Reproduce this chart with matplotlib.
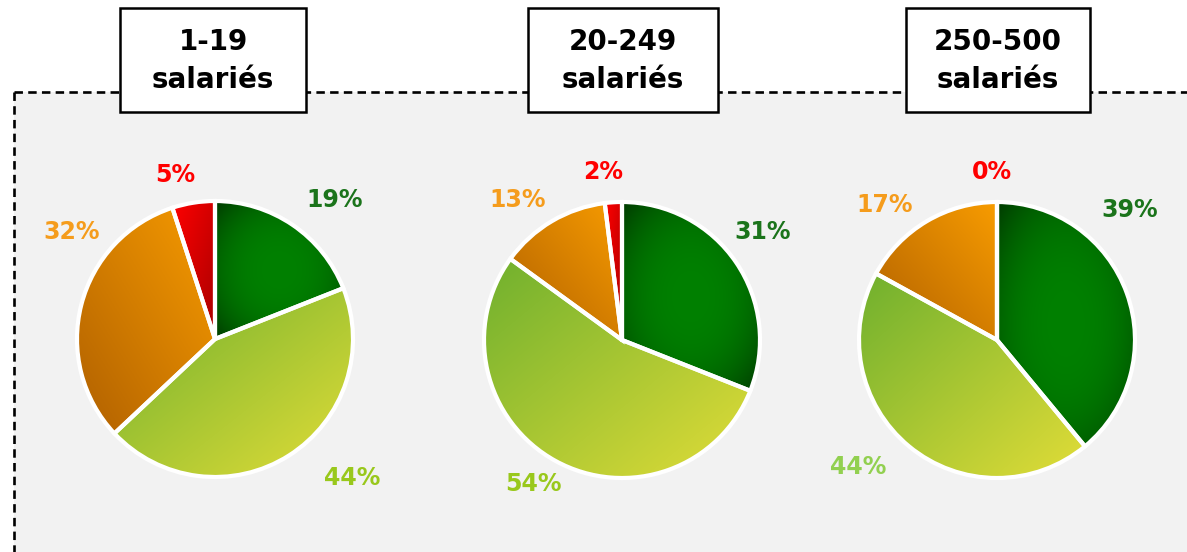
import numpy as np
import matplotlib.pyplot as plt
from matplotlib.patches import Rectangle
from matplotlib.colors import to_rgb

# data
groups = ['1-19\nsalariés', '20-249\nsalariés', '250-500\nsalariés']
# order: dark green, light green, orange, red (clockwise from 12 o'clock)
shares = [
    [19, 44, 32, 5],
    [31, 54, 13, 2],
    [39, 44, 17, 0],
]
label_colors = [
    ['#1b741b', '#99c81c', '#f59c1c', '#ff0000'],
    ['#1b741b', '#99c81c', '#f59c1c', '#ff0000'],
    ['#1b741b', '#92d050', '#f59c1c', '#ff0000'],
]

# layout (pixels)
W, H = 1187, 552
pie_centers = [(215, 339), (622, 340), (997, 340)]
pie_r = 138
box_x = [(120, 306), (528, 718), (906, 1090)]
label_pos = [
    [(335, 200), (352, 478), (72, 232), (175, 175)],
    [(763, 232), (533, 484), (518, 200), (603, 172)],
    [(1130, 210), (858, 467), (885, 205), (992, 172)],
]

grad = {
    0: ('radial', '#008000', '#003800'),
    1: ('diag_down', '#6fb02e', '#e2dd38'),
    2: ('diag_up', '#f89c00', '#b06000'),
    3: ('diag_down', '#ff0000', '#a80000'),
}


def gradient_img(kind, c0, c1, n=200):
    u, v = np.meshgrid(np.linspace(0, 1, n), np.linspace(0, 1, n))
    if kind == 'radial':
        t = np.sqrt((u - 0.5) ** 2 + (v - 0.5) ** 2) / np.sqrt(0.5)
        t = np.clip(t, 0, 1) ** 2.6
    elif kind == 'diag_down':
        t = (u + v) / 2
    else:
        t = ((1 - u) + v) / 2
    a, b = np.array(to_rgb(c0)), np.array(to_rgb(c1))
    return a[None, None, :] * (1 - t[..., None]) + b[None, None, :] * t[..., None]


fig = plt.figure(figsize=(W / 100, H / 100), dpi=100)
ax = fig.add_axes([0, 0, 1, 1])

# gray panel with dashed top/left border
ax.add_patch(Rectangle((14, 92), W - 14, H - 92, facecolor='#f2f2f2', edgecolor='none', zorder=0))
ax.plot([14, W], [92, 92], color='black', lw=1.9, ls=(0, (3.2, 2.0)), zorder=1)
ax.plot([14, 14], [92, H], color='black', lw=1.9, ls=(0, (3.2, 2.0)), zorder=1)

for i, vals in enumerate(shares):
    cx, cy = pie_centers[i]
    wedges, _ = ax.pie(vals, center=(cx, cy), radius=pie_r, startangle=-90,
                       counterclock=True, frame=True,
                       wedgeprops=dict(edgecolor='white', linewidth=3))
    for j, w in enumerate(wedges):
        w.set_zorder(4)
        if vals[j] == 0:
            continue
        ext = w.get_path().get_extents()
        kind, c0, c1 = grad[j]
        im = ax.imshow(gradient_img(kind, c0, c1), origin='upper',
                       extent=(ext.x0, ext.x1, ext.y1, ext.y0),
                       interpolation='bilinear', zorder=3)
        im.set_clip_path(w)
        w.set_facecolor('none')
    for j, v in enumerate(vals):
        lx, ly = label_pos[i][j]
        ax.text(lx, ly, f'{v}%', ha='center', va='center', fontsize=17,
                fontweight='bold', color=label_colors[i][j], zorder=5)

    # title box
    x0, x1 = box_x[i]
    ax.add_patch(Rectangle((x0, 8), x1 - x0, 104, facecolor='white',
                           edgecolor='black', lw=1.8, zorder=6))
    ax.text((x0 + x1) / 2, 61, groups[i], ha='center', va='center',
            fontsize=20, fontweight='bold', linespacing=1.45, zorder=7)

ax.set_xlim(0, W)
ax.set_ylim(H, 0)
ax.set_aspect('auto')
ax.axis('off')
fig.savefig('out.png', dpi=100)
